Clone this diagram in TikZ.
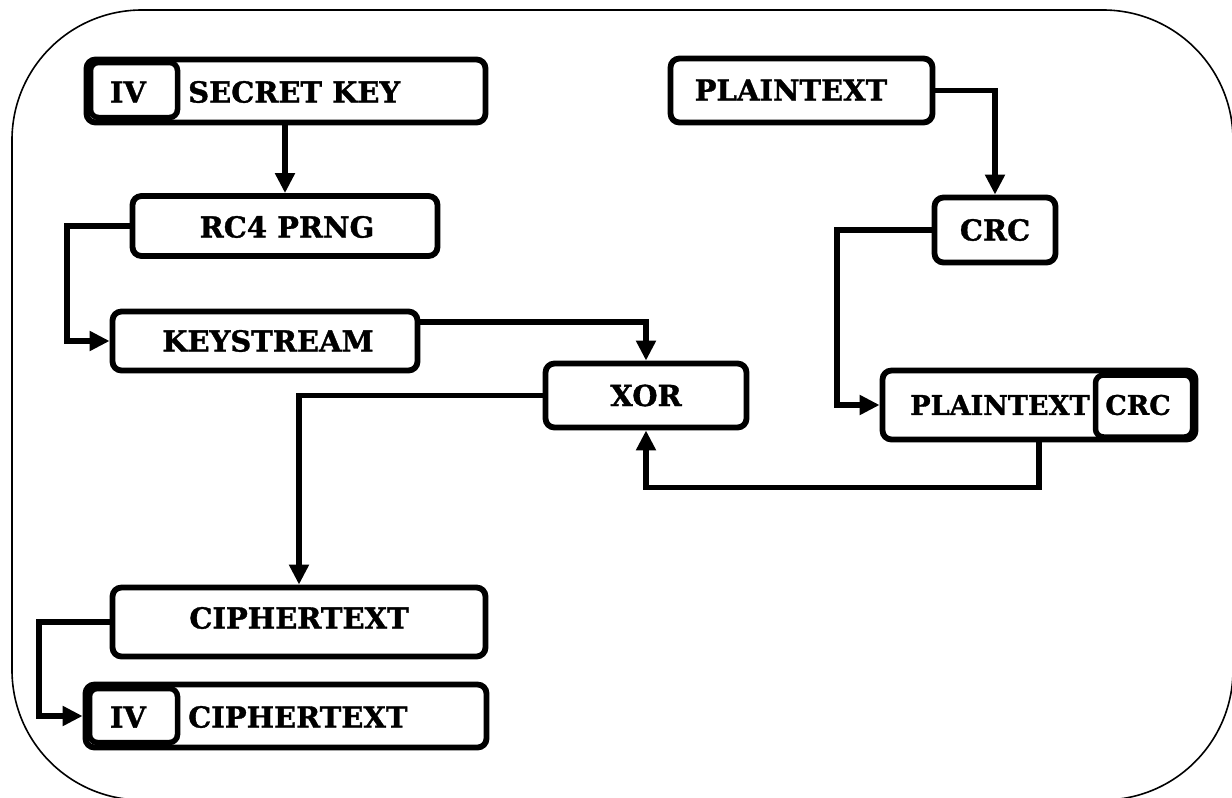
\documentclass[tikz,border=0pt]{standalone}
\usepackage{fontspec}
\setmainfont{DejaVu Serif}[BoldFeatures={FakeBold=1.2}]
\usetikzlibrary{arrows.meta}

\begin{document}
\begin{tikzpicture}[x=1pt,y=-1pt,
  box/.style={draw, line width=5.8pt, rounded corners=9pt, inner sep=0pt},
  subbox/.style={draw, line width=5.5pt, rounded corners=8pt, inner sep=0pt},
  lbl/.style={inner sep=0pt, font=\fontsize{29}{30}\selectfont\bfseries},
  slbl/.style={inner sep=0pt, font=\fontsize{27}{28}\selectfont\bfseries},
  arr/.style={line width=5.8pt, -{Triangle[length=20pt,width=19pt]}},
  frame/.style={draw, line width=1.6pt, rounded corners=130pt}]

\useasboundingbox (0,0) rectangle (1232,798);
\path[frame] (12,10) rectangle (1233,800);

% key side
\node[box, minimum width=399pt, minimum height=63pt] (sk) at (286,91) {};
\node[subbox, minimum width=87pt, minimum height=55pt] (iv1) at (134,90) {};
\node[lbl] (liv1) at (128,92) {IV};
\node[lbl, anchor=west] (lsk) at (188,92) {SECRET KEY};

\node[box, minimum width=305pt, minimum height=60pt] (rc4) at (285,226) {};
\node[lbl] (lrc4) at (287,227) {RC4 PRNG};

\node[box, minimum width=305pt, minimum height=59pt] (ks) at (265,341) {};
\node[lbl] (lks) at (268,341) {KEYSTREAM};

\node[box, minimum width=201pt, minimum height=64pt] (xor) at (646,395.5) {};
\node[lbl] (lxor) at (xor) {XOR};

\node[box, minimum width=373pt, minimum height=69pt] (ct) at (299,622) {};
\node[lbl] (lct) at (299,618) {CIPHERTEXT};

\node[box, minimum width=401pt, minimum height=63pt] (ivct) at (286,716) {};
\node[subbox, minimum width=88pt, minimum height=54pt] (iv2) at (133.5,715.5) {};
\node[lbl] (liv2) at (128,717) {IV};
\node[lbl, anchor=west] (lct2) at (188,717) {CIPHERTEXT};

% plaintext side
\node[box, minimum width=262pt, minimum height=64pt] (pt) at (801.5,90.5) {};
\node[lbl] (lpt) at (791,90) {PLAINTEXT};

\node[box, minimum width=121pt, minimum height=65pt] (crc) at (995,230) {};
\node[lbl] (lcrc) at (crc) {CRC};

\node[box, minimum width=313pt, minimum height=69pt] (ptc) at (1039,405) {};
\node[subbox, minimum width=97pt, minimum height=62pt] (crc2) at (1144,406) {};
\node[slbl] (lptc) at (1000,405) {PLAINTEXT};
\node[slbl] (lcrc2) at (1138,405) {CRC};

% connectors
\draw[arr] (rc4.north |- sk.south) -- (rc4.north);
\draw[arr] (rc4.west) -- ++(-63,0) |- (ks.west);
\draw[arr] ([yshift=19pt]ks.east) -| (xor.north);
\draw[arr] (xor.west) -| (ct.north);
\draw[arr] (ct.west) -- ++(-71,0) |- (ivct.west);
\draw[arr] (pt.east) -| (crc.north);
\draw[arr] (crc.west) -- ++(-95,0) |- (ptc.west);
\draw[arr] (ptc.south) -- ++(0,45) -| (xor.south);
\end{tikzpicture}
\end{document}
